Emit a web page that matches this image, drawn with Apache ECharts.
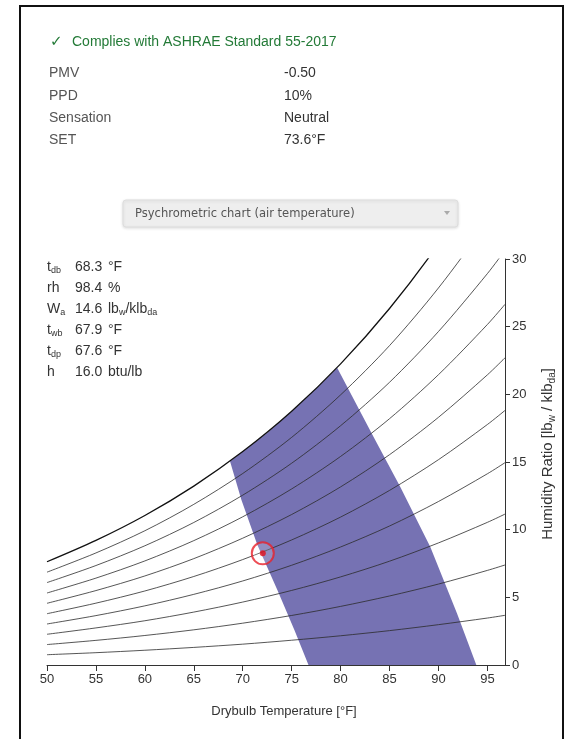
<!DOCTYPE html>
<html>
<head>
<meta charset="utf-8">
<title>Psychrometric chart</title>
<script src="https://cdn.jsdelivr.net/npm/echarts@6/dist/echarts.min.js"></script>
<style>
html, body { margin: 0; padding: 0; background: #fff; }
#main { width: 567px; height: 739px; }
</style>
</head>
<body>
<div id="main"></div>
<script>
// drybulb temperatures (F) where the rh curves are read
var tempsF = [50, 55, 60, 65, 70, 75, 80, 85, 90, 95, 96.8];
// humidity ratio (lbw/klbda) of the constant rh curves, 10% .. 90%
var rh10 = [0.76, 0.91, 1.09, 1.30, 1.54, 1.83, 2.16, 2.54, 2.98, 3.47, 3.67];
var rh20 = [1.51, 1.82, 2.18, 2.60, 3.09, 3.66, 4.33, 5.10, 5.98, 6.99, 7.39];
var rh30 = [2.27, 2.74, 3.27, 3.91, 4.65, 5.51, 6.51, 7.67, 9.02, 10.54, 11.15];
var rh40 = [3.03, 3.65, 4.37, 5.22, 6.21, 7.37, 8.72, 10.27, 12.08, 14.13, 14.95];
var rh50 = [3.79, 4.57, 5.47, 6.54, 7.79, 9.24, 10.93, 12.90, 15.17, 17.77, 18.81];
var rh60 = [4.56, 5.50, 6.58, 7.86, 9.37, 11.12, 13.16, 15.54, 18.30, 21.44, 22.70];
var rh70 = [5.32, 6.42, 7.69, 9.19, 10.95, 13.01, 15.41, 18.20, 21.45, 25.16, 26.65];
var rh80 = [6.09, 7.35, 8.81, 10.53, 12.55, 14.91, 17.68, 20.89, 24.64, 28.92, 30.64];
var rh90 = [6.86, 8.28, 9.92, 11.87, 14.15, 16.82, 19.96, 23.60, 27.86, 32.73, 34.69];
// saturation line (100%)
var rh100 = [7.63, 9.21, 11.05, 13.22, 15.77, 18.75, 22.25, 26.34, 31.10, 36.58, 38.78];

// comfort zone outline
var zoneT = [68.7, 70, 72.5, 75, 77.5, 79.65, 83.36, 86.09, 89.16, 91.89, 93.87, 76.72, 75.28, 73.54, 71.5, 69.87];
var zoneW = [15.06, 15.77, 17.16, 18.75, 20.43, 21.97, 16.87, 13.18, 8.74, 3.82, 0, 0, 2.59, 5.54, 8.87, 12.2];

// current point
var pointT = 72.05;
var pointW = 8.25;

// results
var resultLabels = ['PMV', 'PPD', 'Sensation', 'SET'];
var resultValues = ['-0.50', '10%', 'Neutral', '73.6°F'];

// info block on the chart
var infoMain = ['t', 'rh', 'W', 't', 't', 'h'];
var infoSub = ['db', '', 'a', 'wb', 'dp', ''];
var infoValues = ['68.3', '98.4', '14.6', '67.9', '67.6', '16.0'];
var infoUnits = [
    [['°F', 0]],
    [['%', 0]],
    [['lb', 0], ['w', 1], ['/klb', 0], ['da', 1]],
    [['°F', 0]],
    [['°F', 0]],
    [['btu/lb', 0]]
];

var FONT = 'Liberation Sans, Arial, sans-serif';
var ctx = document.createElement('canvas').getContext('2d');
function textWidth(s, font) {
    ctx.font = font;
    return ctx.measureText(s).width;
}

// text with subscripts, parts = [[text, isSub], ...]
function textRun(x, y, parts, size, color) {
    var out = [];
    var cx = x;
    parts.forEach(function (p) {
        var f = (p[1] ? Math.round(size * 0.65) : size) + 'px ' + FONT;
        out.push({
            type: 'text', x: cx, y: p[1] ? y + 4 : y,
            style: { text: p[0], font: f, fill: color, align: 'left', verticalAlign: 'middle' }
        });
        cx += textWidth(p[0], f);
    });
    return out;
}
function runWidth(parts, size) {
    var w = 0;
    parts.forEach(function (p) {
        w += textWidth(p[0], (p[1] ? Math.round(size * 0.65) : size) + 'px ' + FONT);
    });
    return w;
}

var graphics = [];
// frame
graphics.push({
    type: 'polyline',
    shape: { points: [[20, 739], [20, 6], [563, 6], [563, 739]] },
    style: { stroke: '#111', lineWidth: 2, fill: null }
});
// compliance line
graphics.push({
    type: 'text', x: 50, y: 42,
    style: { text: '✓', font: '15px DejaVu Sans', fill: '#237a37', verticalAlign: 'middle' }
});
graphics.push({
    type: 'text', x: 72, y: 42,
    style: { text: 'Complies with ASHRAE Standard 55-2017', font: '14px ' + FONT, fill: '#237a37', verticalAlign: 'middle' }
});
resultLabels.forEach(function (l, i) {
    var y = 73.5 + i * 22.3;
    graphics.push({ type: 'text', x: 49, y: y, style: { text: l, font: '14px ' + FONT, fill: '#555', verticalAlign: 'middle' } });
    graphics.push({ type: 'text', x: 284, y: y, style: { text: resultValues[i], font: '14px ' + FONT, fill: '#333', verticalAlign: 'middle' } });
});

// dropdown
var ddText = 'Psychrometric chart (air temperature)';
var ddSize = 12 * 220 / textWidth(ddText, '12px DejaVu Sans');
graphics.push({
    type: 'rect',
    shape: { x: 123, y: 200, width: 335, height: 27, r: 3 },
    style: { fill: '#eeeeee', stroke: '#dddddd', lineWidth: 1, shadowBlur: 3, shadowOffsetY: 1, shadowColor: 'rgba(0,0,0,0.12)' }
});
graphics.push({
    type: 'text', x: 135, y: 214,
    style: { text: ddText, font: ddSize.toFixed(2) + 'px DejaVu Sans', fill: '#555', verticalAlign: 'middle' }
});
graphics.push({
    type: 'polygon',
    shape: { points: [[444, 211], [450, 211], [447, 215]] },
    style: { fill: '#aaa' }
});

// info block
infoMain.forEach(function (m, i) {
    var y = 267 + i * 21;
    var parts = [[m, 0]];
    if (infoSub[i]) parts.push([infoSub[i], 1]);
    graphics = graphics.concat(textRun(47, y, parts, 14, '#333'));
    graphics.push({ type: 'text', x: 75, y: y, style: { text: infoValues[i], font: '14px ' + FONT, fill: '#333', verticalAlign: 'middle' } });
    graphics = graphics.concat(textRun(108, y, infoUnits[i], 14, '#333'));
});

// axis titles
graphics.push({
    type: 'text', x: 284, y: 711,
    style: { text: 'Drybulb Temperature [°F]', font: '13px ' + FONT, fill: '#333', align: 'center', verticalAlign: 'middle' }
});
var yTitle = [['Humidity Ratio [lb', 0], ['w', 1], [' / klb', 0], ['da', 1], [']', 0]];
var yTitleW = runWidth(yTitle, 15);
graphics.push({
    type: 'group', x: 548, y: 454 + yTitleW / 2, rotation: Math.PI / 2,
    children: textRun(0, 0, yTitle, 15, '#333')
});

function pairs(ws) {
    return tempsF.map(function (t, i) { return [t, ws[i]]; });
}

var series = [{
    type: 'custom',
    z: 1,
    silent: true,
    data: [[zoneT[0], zoneW[0]]],
    renderItem: function (params, api) {
        var pts = zoneT.map(function (t, i) { return api.coord([t, zoneW[i]]); });
        return { type: 'polygon', shape: { points: pts, smooth: 0 }, style: { fill: '#7672b3' } };
    }
}];
[rh10, rh20, rh30, rh40, rh50, rh60, rh70, rh80, rh90].forEach(function (ws) {
    series.push({
        type: 'line', z: 2, data: pairs(ws), showSymbol: false, smooth: 0.3, clip: true,
        lineStyle: { color: '#2b2b2b', width: 0.8 }
    });
});
series.push({
    type: 'line', z: 2, data: pairs(rh100), showSymbol: false, smooth: 0.3, clip: true,
    lineStyle: { color: '#111', width: 1.3 }
});
series.push({
    type: 'scatter', z: 3, data: [[pointT, pointW]], symbolSize: 22,
    itemStyle: { color: 'rgba(255,255,255,0.25)', borderColor: '#e8202a', borderWidth: 2 }
});
series.push({
    type: 'scatter', z: 4, data: [[pointT, pointW]], symbolSize: 6,
    itemStyle: { color: '#e3101c' }
});

var myChart = echarts.init(document.getElementById('main'));
var option = {
    animation: false,
    backgroundColor: '#fff',
    textStyle: { fontFamily: FONT },
    grid: { left: 47, right: 62, top: 259, bottom: 74 },
    xAxis: {
        type: 'value', min: 50, max: 96.8, interval: 5,
        axisLine: { onZero: false, lineStyle: { color: '#333', width: 1 } },
        axisTick: { length: 6, lineStyle: { color: '#333' } },
        axisLabel: { color: '#333', fontSize: 13, margin: 8, showMaxLabel: false },
        splitLine: { show: false }
    },
    yAxis: {
        type: 'value', position: 'right', min: 0, max: 30, interval: 5,
        axisLine: { show: true, onZero: false, lineStyle: { color: '#333', width: 1 } },
        axisTick: { show: true, length: 5, lineStyle: { color: '#333' } },
        axisLabel: { color: '#333', fontSize: 13, margin: 7 },
        splitLine: { show: false }
    },
    graphic: graphics,
    series: series
};
myChart.setOption(option);
</script>
</body>
</html>
